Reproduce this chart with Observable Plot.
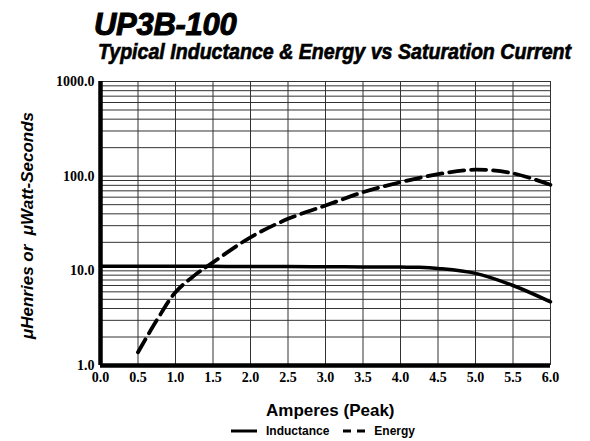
<!DOCTYPE html>
<html>
<head>
<meta charset="utf-8">
<script src="https://cdn.jsdelivr.net/npm/d3@7"></script>
<script src="https://cdn.jsdelivr.net/npm/@observablehq/plot@0.6"></script>
<style>
  html, body { margin: 0; padding: 0; background: #fff; }
  #wrap { width: 590px; position: relative; }
  #head { position: relative; height: 70px; }
  .t { position: absolute; white-space: nowrap; font-family: "Liberation Sans", Arial, sans-serif; font-weight: bold; font-style: italic; color: #000; -webkit-text-stroke: 0.6px #000; transform-origin: 0 0; }
  #title { left: 94px; top: 9px; font-size: 31px; line-height: 31px; letter-spacing: -0.3px; -webkit-text-stroke: 1px #000; }
  #subtitle { left: 98px; top: 41px; font-size: 20px; line-height: 20px; transform: scale(0.98, 1.06); }
  #foot { position: relative; height: 51px; font-family: "Liberation Sans", Arial, sans-serif; font-weight: bold; color: #000; }
  #xlabel { position: absolute; left: 266px; top: 12px; font-size: 17px; line-height: 17px; white-space: nowrap; }
  #legend { position: absolute; left: 231px; top: 34px; font-size: 12px; line-height: 14px; white-space: nowrap; display: flex; align-items: center; }
  #legend svg { display: block; }
</style>
</head>
<body>
<div id="wrap">
  <div id="head">
    <div class="t" id="title"></div>
    <div class="t" id="subtitle"></div>
  </div>
  <div id="chart"></div>
  <div id="foot">
    <div id="xlabel"></div>
    <div id="legend"></div>
  </div>
</div>
<script>
// ---- Data ----
const titleText = "UP3B-100";
const subtitleText = "Typical Inductance & Energy vs Saturation Current";
const xLabel = "Amperes (Peak)";
const yLabel = "\u03bcHenries or  \u03bcWatt-Seconds";
const seriesNames = ["Inductance", "Energy"];

const inductanceAmps = [0.0, 0.5, 1.0, 1.5, 2.0, 2.5, 3.0, 3.5, 4.0, 4.25, 4.5, 5.0, 5.5, 6.0];
const inductanceVals = [11.2, 11.2, 11.2, 11.15, 11.1, 11.1, 11.05, 11.0, 10.95, 10.9, 10.6, 9.4, 7.0, 4.7];

const energyAmps = [0.5, 0.75, 1.0, 1.25, 1.5, 2.0, 2.5, 3.0, 3.5, 4.0, 4.5, 5.0, 5.5, 6.0];
const energyVals = [1.38, 3.0, 5.95, 8.9, 12.3, 22.6, 35.4, 49, 67.7, 86.3, 105, 117, 107, 81];

const xTicks = [0.0, 0.5, 1.0, 1.5, 2.0, 2.5, 3.0, 3.5, 4.0, 4.5, 5.0, 5.5, 6.0];
const yTickLabels = [1, 10, 100, 1000];
const yGridVals = [2,3,4,5,6,7,8,9,10,20,30,40,50,60,70,80,90,100,200,300,400,500,600,700,800,900,1000];
const xGridVals = [0.5, 1.0, 1.5, 2.0, 2.5, 3.0, 3.5, 4.0, 4.5, 5.0, 5.5, 6.0];

// ---- Build tables ----
const inductance = inductanceAmps.map((a, i) => ({amps: a, value: inductanceVals[i]}));
const energy = energyAmps.map((a, i) => ({amps: a, value: energyVals[i]}));

document.getElementById("title").textContent = titleText;
document.getElementById("subtitle").textContent = subtitleText;
document.getElementById("xlabel").textContent = xLabel;

const tickFont = {fontFamily: "'Liberation Serif', 'Times New Roman', serif", fontWeight: "bold", fontSize: 14};

const chart = Plot.plot({
  width: 590,
  height: 320,
  marginLeft: 100,
  marginRight: 40,
  marginTop: 11,
  marginBottom: 25,
  x: {domain: [0, 6]},
  y: {type: "log", domain: [1, 1000]},
  marks: [
    Plot.ruleY(yGridVals, {stroke: "#333", strokeWidth: 1}),
    Plot.ruleX(xGridVals, {stroke: "#333", strokeWidth: 1}),
    Plot.axisX({ticks: xTicks, tickFormat: ".1f", tickSize: 0, tickPadding: 7, label: null, ...tickFont}),
    Plot.axisY({ticks: yTickLabels, tickFormat: ".1f", tickSize: 0, tickPadding: 6, label: null, ...tickFont}),
    Plot.line(inductance, {x: "amps", y: "value", curve: "catmull-rom", stroke: "#000", strokeWidth: 3.5}),
    Plot.line(energy, {x: "amps", y: "value", curve: "catmull-rom", stroke: "#000", strokeWidth: 3.8, strokeDasharray: "15,7"}),
    Plot.ruleX([0], {stroke: "#000", strokeWidth: 4.5}),
    Plot.ruleY([1], {stroke: "#000", strokeWidth: 4.5}),
    Plot.text([yLabel], {frameAnchor: "left", textAnchor: "middle", dx: -73, dy: 2, rotate: -90, fontFamily: "'Liberation Sans', Arial, sans-serif", fontWeight: "bold", fontStyle: "italic", fontSize: 17, fill: "#000"})
  ]
});
document.getElementById("chart").appendChild(chart);

// ---- Legend ----
const legend = document.getElementById("legend");
seriesNames.forEach((name, i) => {
  const ns = "http://www.w3.org/2000/svg";
  const s = document.createElementNS(ns, "svg");
  s.setAttribute("width", 26); s.setAttribute("height", 8);
  const l = document.createElementNS(ns, "line");
  l.setAttribute("x1", 0); l.setAttribute("x2", 26); l.setAttribute("y1", 4); l.setAttribute("y2", 4);
  l.setAttribute("stroke", "#000"); l.setAttribute("stroke-width", 3);
  if (i === 1) { l.setAttribute("x1", 0); l.setAttribute("x2", 22); l.setAttribute("stroke-dasharray", "8,6"); }
  s.appendChild(l);
  s.style.marginRight = i === 1 ? "5px" : "9px";
  if (i === 1) s.style.marginLeft = "14px";
  legend.appendChild(s);
  const sp = document.createElement("span");
  sp.textContent = name;
  legend.appendChild(sp);
});
</script>
</body>
</html>
